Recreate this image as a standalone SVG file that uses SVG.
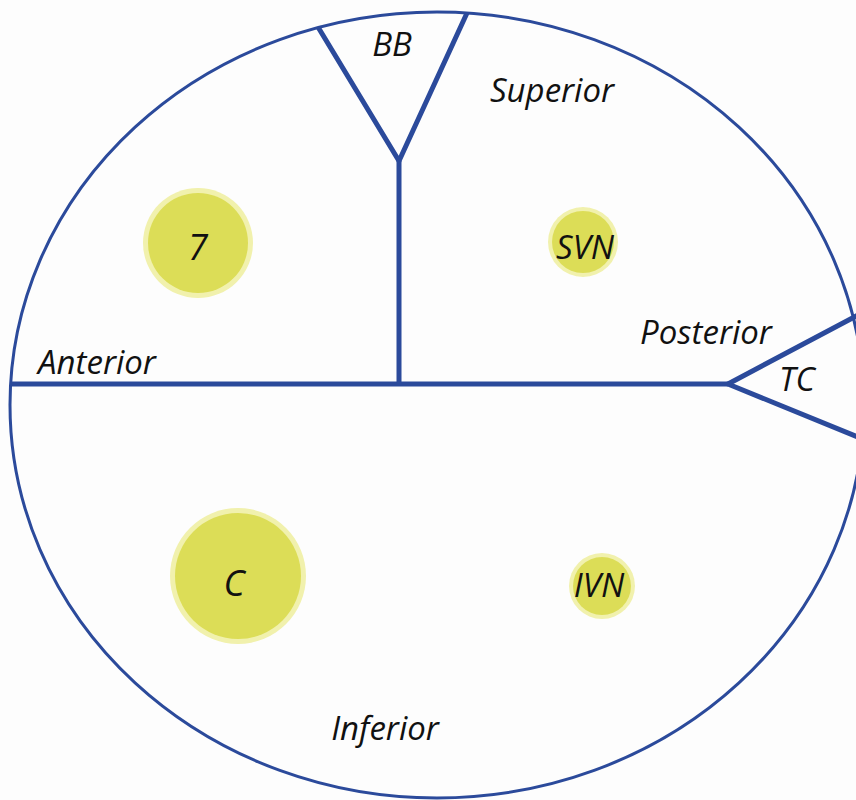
<svg xmlns="http://www.w3.org/2000/svg" width="856" height="800" viewBox="0 0 856 800">
<style>
.bg{fill:#fdfdfd}
.outline{fill:none;stroke:#2b4a9b;stroke-width:3}
.divider{fill:none;stroke:#2b4a9b;stroke-width:5;stroke-linejoin:miter}
.spot-glow{fill:#f1f1ad}
.spot{fill:#dcdd57}
.lbl{font-family:"Open Sans","Liberation Sans",sans-serif;font-style:italic;font-size:33px;fill:#111;text-anchor:middle}
.big{font-size:36px}
</style>
<rect class="bg" x="0" y="0" width="856" height="800"/>
<g id="outline">
<ellipse class="outline" cx="437" cy="405" rx="427" ry="393"/>
</g>
<g id="connectors">
<path class="divider" d="M10,384 H728"/>
<path class="divider" d="M399,384 V161"/>
<path class="divider" d="M318,27 L399,161 L467,13"/>
<path class="divider" d="M858,315 L728,384 L858,437"/>
</g>
<g id="node-7">
<circle class="spot-glow" cx="198" cy="243" r="55"/>
<circle class="spot" cx="198" cy="243" r="50"/>
<text class="lbl big" x="198" y="260">7</text>
</g>
<g id="node-SVN">
<circle class="spot-glow" cx="583" cy="242" r="35"/>
<circle class="spot" cx="583" cy="242" r="31"/>
<text class="lbl" x="585" y="259">SVN</text>
</g>
<g id="node-C">
<circle class="spot-glow" cx="238" cy="576" r="68"/>
<circle class="spot" cx="238" cy="576" r="63"/>
<text class="lbl big" x="234" y="596">C</text>
</g>
<g id="node-IVN">
<circle class="spot-glow" cx="602" cy="586" r="33"/>
<circle class="spot" cx="602" cy="586" r="29"/>
<text class="lbl" x="599" y="597">IVN</text>
</g>
<g id="labels">
<text class="lbl" x="392" y="56">BB</text>
<text class="lbl" x="552" y="102">Superior</text>
<text class="lbl" x="706" y="344">Posterior</text>
<text class="lbl" x="797" y="391">TC</text>
<text class="lbl" x="97" y="374">Anterior</text>
<text class="lbl" x="385" y="740">Inferior</text>
</g>
</svg>
